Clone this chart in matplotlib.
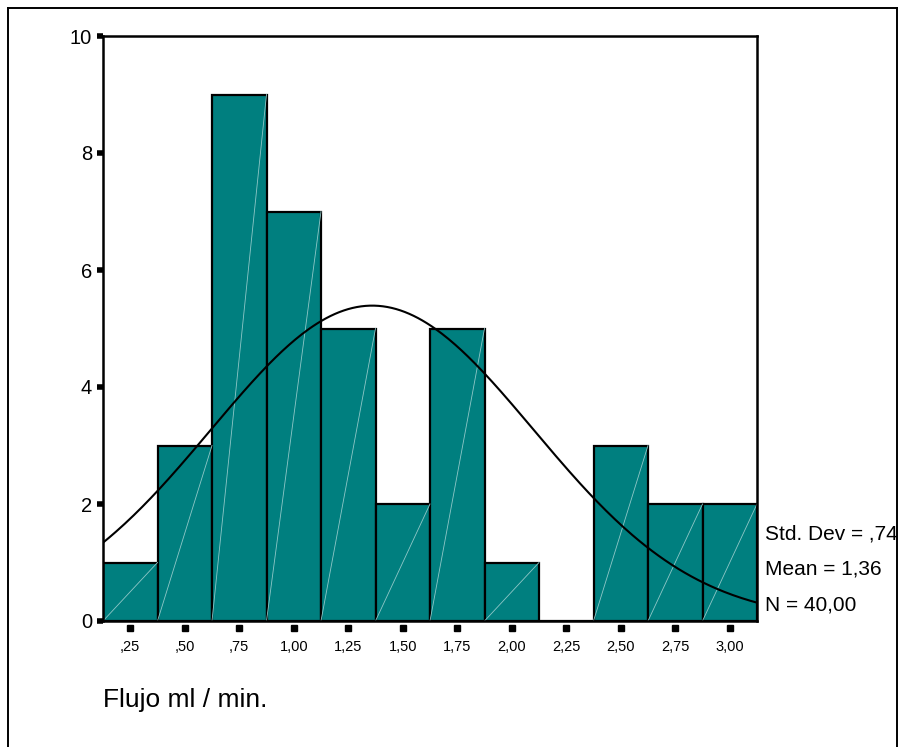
import numpy as np
import matplotlib.pyplot as plt
from matplotlib.lines import Line2D

# datos del histograma (Flujo ml / min.)
bin_centers = [0.25, 0.50, 0.75, 1.00, 1.25, 1.50, 1.75, 2.00, 2.25, 2.50, 2.75, 3.00]
counts = [1, 3, 9, 7, 5, 2, 5, 1, 0, 3, 2, 2]
tick_labels = [",25", ",50", ",75", "1,00", "1,25", "1,50", "1,75", "2,00",
               "2,25", "2,50", "2,75", "3,00"]
y_ticks = [0, 2, 4, 6, 8, 10]

# estadísticos
MEAN = 1.36
SD = 0.74
N = 40
BIN_W = 0.25

plt.rcParams["font.family"] = ["Liberation Sans", "DejaVu Sans"]

fig = plt.figure(figsize=(9, 7.47), dpi=100, facecolor="white")
ax = fig.add_axes([103 / 900, 126 / 747, 654 / 900, 585 / 747])

teal = "#007f7f"
ax.bar(bin_centers, counts, width=BIN_W, color=teal, edgecolor="black",
       linewidth=1.6, zorder=2)

# líneas diagonales claras dentro de cada barra
for xc, h in zip(bin_centers, counts):
    if h > 0:
        ax.plot([xc - BIN_W / 2, xc + BIN_W / 2], [0, h], color="#8fc7c7",
                linewidth=0.6, zorder=3)

# curva normal
x0 = bin_centers[0] - BIN_W / 2
x1 = bin_centers[-1] + BIN_W / 2
xs = np.linspace(x0, x1, 300)
ys = N * BIN_W * np.exp(-0.5 * ((xs - MEAN) / SD) ** 2) / (SD * np.sqrt(2 * np.pi))
ax.plot(xs, ys, color="black", linewidth=1.5, zorder=4)

ax.set_xlim(x0, x1)
ax.set_ylim(0, 10)

for spine in ax.spines.values():
    spine.set_linewidth(1.8)
    spine.set_zorder(5)

ax.set_yticks(y_ticks)
ax.set_yticklabels([str(v) for v in y_ticks], fontsize=14.5)
ax.tick_params(axis="y", direction="out", length=4, width=4, pad=4)

ax.set_xticks(bin_centers)
ax.set_xticklabels(tick_labels, fontsize=10.5)
ax.tick_params(axis="x", length=0, pad=14)
# marcas cuadradas bajo el eje x, con un pequeño hueco
ax.plot(bin_centers, [-0.12] * len(bin_centers), linestyle="none", marker="s",
        markersize=4, color="black", clip_on=False)

# texto de estadísticos
ax.text(1.012, 0.148, "Std. Dev = ,74", transform=ax.transAxes, fontsize=15,
        va="center", ha="left")
ax.text(1.012, 0.089, "Mean = 1,36", transform=ax.transAxes, fontsize=15,
        va="center", ha="left")
ax.text(1.012, 0.027, "N = 40,00", transform=ax.transAxes, fontsize=15,
        va="center", ha="left")

fig.text(103 / 900, 1 - 700 / 747, "Flujo ml / min.", fontsize=19,
         va="center", ha="left")

# marco exterior
lx, rx, ty = 8 / 900, 897 / 900, 1 - 8 / 747
for xd, yd in [([lx, lx], [0, ty]), ([lx, rx], [ty, ty]), ([rx, rx], [ty, 0])]:
    fig.add_artist(Line2D(xd, yd, color="black", linewidth=1.4,
                          transform=fig.transFigure))

fig.savefig("out.png", dpi=100, facecolor="white")
